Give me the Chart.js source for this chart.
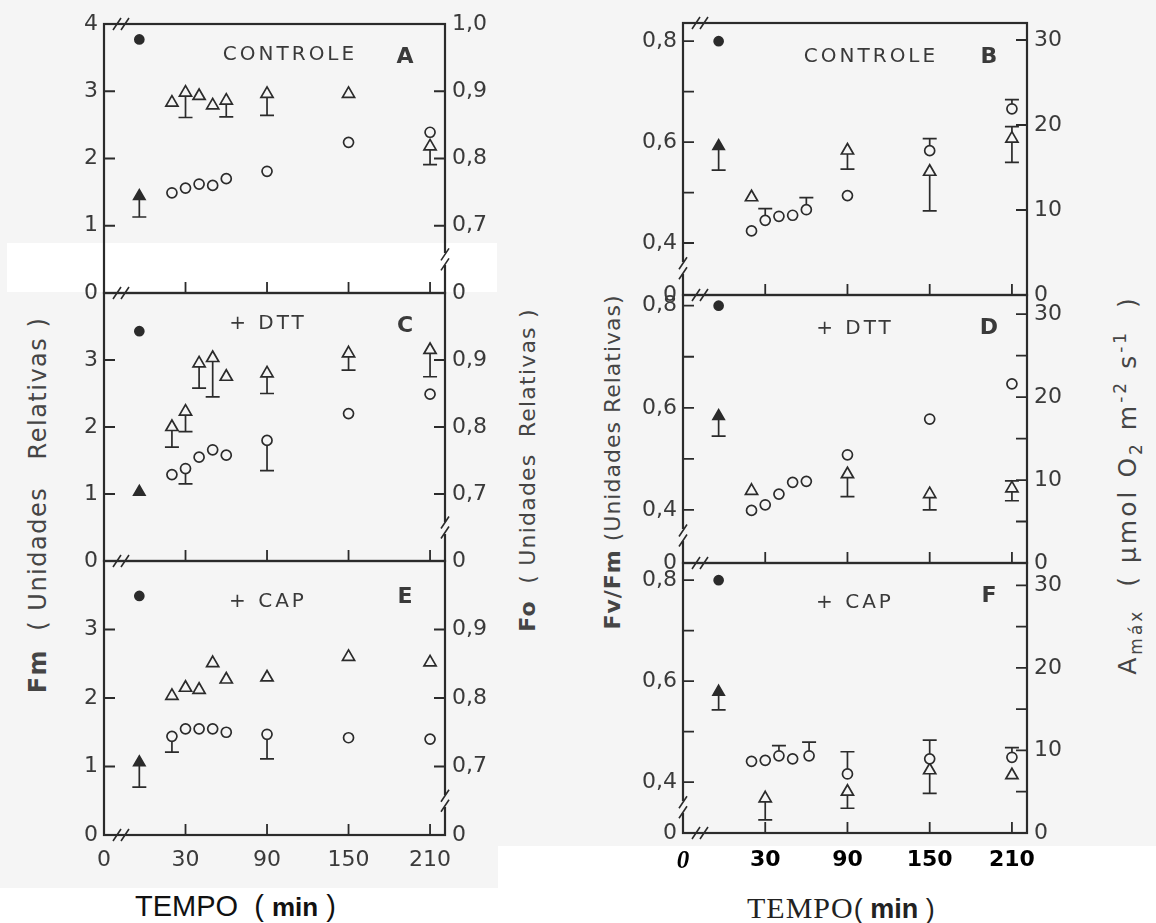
<!DOCTYPE html>
<html>
<head>
<meta charset="utf-8">
<script src="https://cdn.jsdelivr.net/npm/chart.js@4.4.1/dist/chart.umd.min.js"></script>
<style>
  body { margin: 0; background: #f5f5f5; }
  #fig { position: relative; width: 1156px; height: 923px; overflow: hidden; }
  #fig canvas { position: absolute; left: 0; top: 0; }
  .patch { position: absolute; background: #fff; }
  .vt { position: absolute; width: 0; height: 0; }
  .vt span {
    position: absolute; left: 0; top: 0; white-space: pre;
    transform: translate(-50%, -50%) rotate(-90deg);
    font-family: "DejaVu Sans"; color: #454545;
  }
  .xt { position: absolute; white-space: pre; color: #111; line-height: 1; }
</style>
</head>
<body>
<div id="fig">
  <div class="patch" style="left:7px;top:243px;width:490px;height:49px"></div>
  <div class="patch" style="left:0;top:888px;width:500px;height:35px"></div>
  <div class="patch" style="left:498px;top:846px;width:658px;height:77px"></div>

  <div class="vt" style="left:38px;top:505px"><span style="font-size:24px;letter-spacing:1.5px"><b>Fm</b>  ( Unidades   Relativas )</span></div>
  <div class="vt" style="left:527px;top:470px"><span style="font-size:22px;letter-spacing:1.2px"><b>Fo</b>  ( Unidades  Relativas )</span></div>
  <div class="vt" style="left:612px;top:462px"><span style="font-size:22px;letter-spacing:1px"><b>Fv/Fm</b> (Unidades Relativas)</span></div>
  <div class="vt" style="left:1128px;top:485px"><span style="font-size:25px;letter-spacing:3px">A<sub style="font-size:17px">máx</sub>  ( μmol O<sub style="font-size:17px">2</sub> m<sup style="font-size:17px">-2</sup> s<sup style="font-size:17px">-1</sup>  )</span></div>

  <div class="xt" style="left:135px;top:892px;font-family:'Liberation Sans';font-size:29px">TEMPO  ( <b style="font-size:26px">min</b> )</div>
  <div class="xt" style="left:747px;top:893px;font-family:'Liberation Serif';font-size:30px;letter-spacing:1px;color:#222">TEMPO<span style="font-family:'Liberation Sans';font-size:27px;letter-spacing:0">( <b>min</b> )</span></div>
</div>
<script>
// ----- dados -----
const TEMPO0 = -4;   // tempo 0, desenhado logo depois da quebra do eixo
const tempos = [20, 30, 40, 50, 60, 90, 150, 210];
const temposAm = [20, 90, 150, 210];
const temposFvF = [20, 30, 40, 50, 62, 90, 150, 210];
const temposAmF = [30, 90, 150, 210];

// A - controle (Fm: circulos, eixo esq.; Fo: triangulos, eixo dir.)
const fmA0 = 3.77, foA0 = 0.744, foA0Lo = 0.713;
const fmA = [1.49, 1.56, 1.62, 1.60, 1.70, 1.81, 2.24, 2.39];
const foA = [0.883, 0.898, 0.893, 0.879, 0.886, 0.896, 0.896, 0.818];
const foALo = [null, 0.861, null, null, 0.862, 0.864, null, 0.791];

// C - DTT
const fmC0 = 3.43, foC0 = 0.703;
const fmC = [1.29, 1.38, 1.55, 1.66, 1.58, 1.80, 2.20, 2.49];
const fmCLo = [null, 1.15, null, null, null, 1.35, null, null];
const foC = [0.800, 0.823, 0.895, 0.903, 0.875, 0.880, 0.910, 0.915];
const foCLo = [0.770, 0.793, 0.858, 0.845, null, 0.850, 0.885, 0.875];

// E - CAP
const fmE0 = 3.49, foE0 = 0.706, foE0Lo = 0.670;
const fmE = [1.44, 1.55, 1.55, 1.55, 1.50, 1.47, 1.42, 1.40];
const fmELo = [1.21, null, null, null, null, 1.11, null, null];
const foE = [0.803, 0.815, 0.812, 0.851, 0.827, 0.830, 0.860, 0.852];

// B - controle (Fv/Fm: circulos, eixo esq.; Amax: triangulos, eixo dir.)
const fvB0 = 0.80, amB0 = 17.5, amB0Lo = 14.7;
const fvB = [0.424, 0.445, 0.453, 0.455, 0.466, 0.494, 0.583, 0.666];
const fvBHi = [null, 0.468, null, null, 0.490, null, 0.607, 0.684];
const amB = [11.5, 17.0, 14.5, 18.4];
const amBLo = [null, 14.8, 9.9, 15.6];
const amBHi = [null, null, null, 19.8];

// D - DTT
const fvD0 = 0.80, amD0 = 17.7, amD0Lo = 15.3;
const fvD = [0.399, 0.410, 0.431, 0.454, 0.456, 0.508, 0.578, 0.647];
const amD = [8.7, 10.7, 8.3, 9.0];
const amDLo = [null, 8.0, 6.4, 7.5];
const amDHi = [null, null, null, 9.9];

// F - CAP
const fvF0 = 0.80, amF0 = 17.1, amF0Lo = 14.9;
const fvF = [0.441, 0.443, 0.452, 0.446, 0.452, 0.416, 0.446, 0.449];
const fvFHi = [null, null, 0.472, null, 0.479, 0.460, 0.483, 0.468];
const amF = [4.2, 5.0, 7.6, 7.0];
const amFLo = [1.6, 3.0, 4.8, null];

// eixos
const xTicks = [-30, 30, 90, 150, 210];
const xMarcas = [30, 90, 150, 210];
const fmTicks = [0, 1, 2, 3, 4];
const foTicks = [0.6, 0.7, 0.8, 0.9, 1.0];
const fvMarcas = [0.4, 0.5, 0.6, 0.7, 0.8];
const fvRot = ['0', '0,4', '', '0,6', '', '0,8'];
// ----------------------------------

const INK = '#2b2b2b';
const BG = '#f5f5f5';
const TXT = '#3a3a3a';
const W = 1156, H = 923, YW = 70, XH = 42, TL = 11, CAP = 7;

function pts(xs, ys) { return ys.map((y, i) => ({x: xs[i], y: y})); }

const moldura = {
  id: 'moldura',
  beforeDatasetsDraw(chart) {
    const p = chart.options.plugins.moldura;
    const {ctx, chartArea: a, scales} = chart;
    ctx.save();
    ctx.strokeStyle = INK;
    ctx.lineWidth = 2.2;
    ctx.strokeRect(a.left, a.top, a.right - a.left, a.bottom - a.top);

    ctx.lineWidth = 1.8;
    ctx.beginPath();
    xMarcas.forEach(v => {
      const x = scales.x.getPixelForValue(v);
      ctx.moveTo(x, a.bottom); ctx.lineTo(x, a.bottom - TL);
    });
    p.marcasEsq.forEach(v => {
      const y = scales.yl.getPixelForValue(v);
      ctx.moveTo(a.left, y); ctx.lineTo(a.left + TL, y);
    });
    p.marcasDir.forEach(v => {
      const y = scales.yr.getPixelForValue(v);
      ctx.moveTo(a.right, y); ctx.lineTo(a.right - TL, y);
    });
    ctx.stroke();

    // quebras dos eixos
    const barra = (x, y) => { ctx.moveTo(x - 4, y + 6); ctx.lineTo(x + 4, y - 6); };
    ctx.lineWidth = 1.6;
    ctx.beginPath();
    barra(a.left + 13, a.bottom); barra(a.left + 21, a.bottom);
    if (p.topo) { barra(a.left + 13, a.top); barra(a.left + 21, a.top); }
    ctx.stroke();
    if (p.quebraDir != null) {
      const y = scales.yr.getPixelForValue(p.quebraDir);
      ctx.clearRect(a.right - 2, y - 6, 4, 12);
      ctx.beginPath(); barra(a.right, y - 5); barra(a.right, y + 5); ctx.stroke();
    }
    if (p.quebraEsq != null) {
      const y = scales.yl.getPixelForValue(p.quebraEsq);
      ctx.clearRect(a.left - 2, y - 6, 4, 12);
      ctx.beginPath(); barra(a.left, y - 5); barra(a.left, y + 5); ctx.stroke();
    }

    // barras de erro
    ctx.lineWidth = 1.7;
    ctx.beginPath();
    chart.data.datasets.forEach((d, di) => {
      const meta = chart.getDatasetMeta(di);
      const sc = scales[d.yAxisID];
      meta.data.forEach((pt, i) => {
        [d.errLo, d.errHi].forEach(arr => {
          if (!arr || arr[i] == null) return;
          const y = sc.getPixelForValue(arr[i]);
          ctx.moveTo(pt.x, pt.y); ctx.lineTo(pt.x, y);
          ctx.moveTo(pt.x - CAP, y); ctx.lineTo(pt.x + CAP, y);
        });
      });
    });
    ctx.stroke();
    ctx.restore();
  },
  afterDraw(chart) {
    const p = chart.options.plugins.moldura;
    const ctx = chart.ctx;
    ctx.save();
    ctx.fillStyle = TXT;
    ctx.textAlign = 'center';
    ctx.textBaseline = 'middle';
    ctx.font = '20px "DejaVu Sans"';
    ctx.letterSpacing = '3px';
    ctx.fillText(p.nota, p.notaX, p.notaY);
    ctx.letterSpacing = '0px';
    ctx.font = 'bold 22px "DejaVu Sans"';
    ctx.fillText(p.letra, p.letraX, p.letraY);
    ctx.restore();
  }
};

function painel(p) {
  const cv = document.createElement('canvas');
  cv.width = W; cv.height = H;
  document.getElementById('fig').appendChild(cv);

  const estilo = (forma, cheio, r) => ({
    pointStyle: forma, pointRadius: r, borderWidth: 1.7,
    borderColor: INK, backgroundColor: cheio ? INK : BG
  });
  const datasets = [
    Object.assign({data: [{x: TEMPO0, y: p.c0}], yAxisID: 'yl'}, estilo('circle', true, 4.5)),
    Object.assign({data: [{x: TEMPO0, y: p.t0}], yAxisID: 'yr', errLo: [p.t0Lo]}, estilo('triangle', true, 6.5)),
    Object.assign({data: pts(p.tc, p.c), yAxisID: 'yl', errLo: p.cLo, errHi: p.cHi}, estilo('circle', false, 5)),
    Object.assign({data: pts(p.tt, p.t), yAxisID: 'yr', errLo: p.tLo, errHi: p.tHi}, estilo('triangle', false, 7))
  ];

  const eixoY = (pos, lim, vals, rot, pad) => ({
    type: 'linear', position: pos, min: lim[0], max: lim[1],
    grid: {display: false, drawTicks: false}, border: {display: false},
    afterBuildTicks: s => { s.ticks = vals.map(v => ({value: v})); },
    afterFit: s => { s.width = YW; },
    ticks: {
      autoSkip: false, padding: pad, color: TXT,
      font: {family: 'DejaVu Sans', size: 22},
      callback: (v, i) => rot[i]
    }
  });

  const xAltura = p.xRot ? XH : 0;
  new Chart(cv, {
    type: 'scatter',
    data: {datasets: datasets},
    options: {
      responsive: false, animation: false, events: [],
      layout: {padding: {left: p.L - YW, right: W - p.R - YW, top: p.T,
                         bottom: H - p.B - xAltura}},
      plugins: {
        legend: {display: false}, tooltip: {enabled: false},
        moldura: p
      },
      scales: {
        x: {
          type: 'linear', min: -30, max: 221, display: !!p.xRot,
          grid: {display: false, drawTicks: false}, border: {display: false},
          afterBuildTicks: s => { s.ticks = xTicks.map(v => ({value: v})); },
          afterFit: s => { s.height = xAltura; },
          ticks: {
            autoSkip: false, maxRotation: 0, padding: p.xPad || 12,
            color: p.xCor || TXT, font: p.xFonte,
            callback: (v, i) => p.xRot ? p.xRot[i] : ''
          }
        },
        yl: eixoY('left', p.limEsq, p.ticksEsq, p.rotEsq, 6),
        yr: eixoY('right', p.limDir, p.ticksDir, p.rotDir, 7)
      }
    },
    plugins: [moldura]
  });
}

const fmRot = fmTicks.map(String);
const foRot = ['0', '0,7', '0,8', '0,9', '1,0'];
const esquerda = {
  L: 104, R: 445, limEsq: [0, 4], limDir: [0.6, 1.0],
  tc: tempos, tt: tempos, marcasEsq: [1, 2, 3], marcasDir: [0.7, 0.8, 0.9],
  quebraDir: 0.65, notaX: 268, letraX: 405
};
const direita = {
  L: 683, R: 1027, tc: tempos, tt: temposAm,
  marcasEsq: fvMarcas, quebraEsq: 0.35, notaX: 855, letraX: 989
};

painel(Object.assign({}, esquerda, {
  T: 24, B: 293, topo: true,
  ticksEsq: fmTicks, rotEsq: fmRot, ticksDir: foTicks, rotDir: foRot,
  c0: fmA0, t0: foA0, t0Lo: foA0Lo, c: fmA, t: foA, tLo: foALo,
  nota: 'CONTROLE', notaX: 290, notaY: 55, letra: 'A', letraY: 57
}));
painel(Object.assign({}, esquerda, {
  T: 293, B: 561,
  ticksEsq: fmTicks.slice(0, 4), rotEsq: fmRot, ticksDir: foTicks.slice(0, 4), rotDir: foRot,
  c0: fmC0, t0: foC0, c: fmC, cLo: fmCLo, t: foC, tLo: foCLo,
  nota: '+ DTT', notaY: 324, letra: 'C', letraY: 326
}));
painel(Object.assign({}, esquerda, {
  T: 561, B: 835,
  ticksEsq: fmTicks.slice(0, 4), rotEsq: fmRot, ticksDir: foTicks.slice(0, 4), rotDir: foRot,
  c0: fmE0, t0: foE0, t0Lo: foE0Lo, c: fmE, cLo: fmELo, t: foE,
  nota: '+ CAP', notaY: 602, letra: 'E', letraY: 597,
  xRot: ['0', '30', '90', '150', '210'], xPad: 12,
  xFonte: {family: 'DejaVu Sans', size: 22}
}));

painel(Object.assign({}, direita, {
  T: 23, B: 295, topo: true, limEsq: [0.297, 0.836], limDir: [0, 32],
  ticksEsq: [0.297, 0.4, 0.5, 0.6, 0.7, 0.8], rotEsq: fvRot,
  ticksDir: [0, 10, 20, 30], rotDir: ['0', '10', '20', '30'], marcasDir: [10, 20, 30],
  c0: fvB0, t0: amB0, t0Lo: amB0Lo, c: fvB, cHi: fvBHi, t: amB, tLo: amBLo, tHi: amBHi,
  nota: 'CONTROLE', notaX: 871, notaY: 57, letra: 'B', letraY: 57
}));
painel(Object.assign({}, direita, {
  T: 295, B: 563, limEsq: [0.296, 0.821], limDir: [0, 32.3],
  ticksEsq: [0.296, 0.4, 0.5, 0.6, 0.7, 0.8], rotEsq: fvRot,
  ticksDir: [0, 10, 20, 30], rotDir: ['0', '10', '20', '30'], marcasDir: [5, 10, 15, 20, 25, 30],
  c0: fvD0, t0: amD0, t0Lo: amD0Lo, c: fvD, t: amD, tLo: amDLo, tHi: amDHi,
  nota: '+ DTT', notaY: 329, letra: 'D', letraY: 328
}));
painel(Object.assign({}, direita, {
  T: 563, B: 833, limEsq: [0.299, 0.834], limDir: [0, 32.7],
  ticksEsq: [0.299, 0.4, 0.5, 0.6, 0.7, 0.8], rotEsq: fvRot,
  ticksDir: [0, 10, 20, 30], rotDir: ['0', '10', '20', '30'], marcasDir: [5, 10, 15, 20, 25, 30],
  tc: temposFvF, tt: temposAmF,
  c0: fvF0, t0: amF0, t0Lo: amF0Lo, c: fvF, cHi: fvFHi, t: amF, tLo: amFLo,
  nota: '+ CAP', notaY: 603, letra: 'F', letraY: 596,
  xRot: ['0', '30', '90', '150', '210'], xPad: 14, xCor: '#000',
  xFonte: c => (c.tick && c.tick.value === -30)
    ? {family: 'Liberation Serif', style: 'italic', weight: 'bold', size: 25}
    : {family: 'DejaVu Sans', weight: 'bold', size: 22}
}));
</script>
</body>
</html>
